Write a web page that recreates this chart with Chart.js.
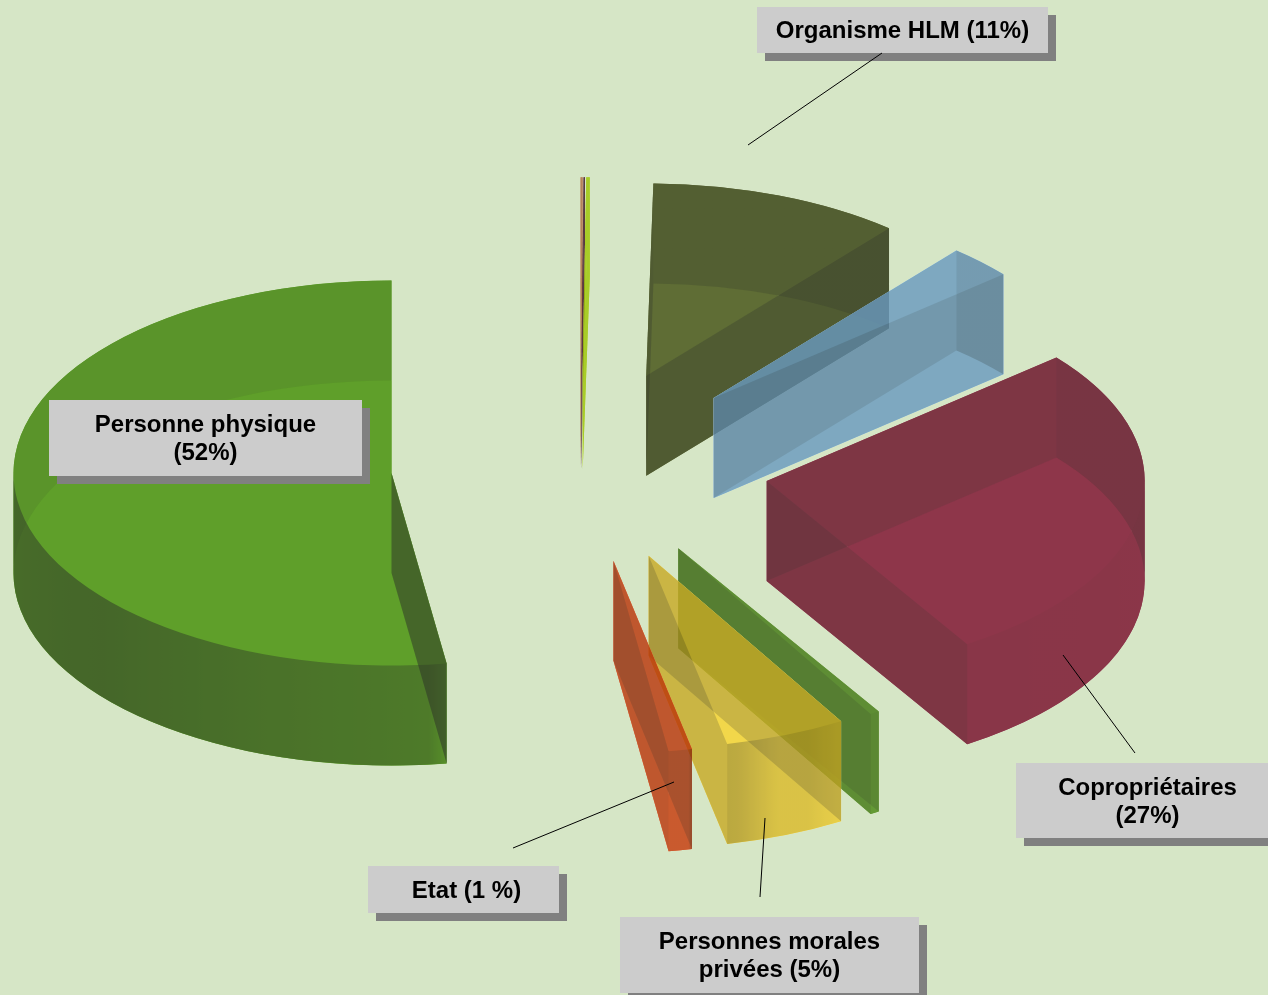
<!DOCTYPE html>
<html>
<head>
<meta charset="utf-8">
<script src="https://cdn.jsdelivr.net/npm/chart.js@4"></script>
<style>
  html, body { margin: 0; padding: 0; background: #D6E6C6; overflow: hidden; }
  #wrap { position: relative; width: 1268px; height: 995px; overflow: hidden; }
  canvas { position: absolute; left: 0; top: 0; }
  svg { position: absolute; left: 0; top: 0; }
  .lbl {
    position: absolute; box-sizing: border-box; background: #CCCCCC; box-shadow: 8px 8px 0 #808080;
    font: bold 24px/28px "Liberation Sans", Arial, sans-serif; color: #000;
    display: flex; align-items: center; justify-content: center; text-align: center; white-space: pre-line;
  }
</style>
</head>
<body>
<div id="wrap"><canvas id="chart" width="1268" height="995"></canvas></div>
<script>
// slices run clockwise from 12 o'clock, percentages
const categories = ["Autre A", "Autre B", "Autre C", "Organisme HLM", "Autre D", "Copropriétaires", "Autre E", "Personnes morales privées", "Etat", "Personne physique"];
const shares = [0.09, 0.06, 0.15, 10.8, 2.8, 27.2, 0.4, 5.17, 1.0, 52.33];
const colors = ["#AD6A3F", "#3A0F20", "#9DC600", "#414F11", "#77B0DC", "#7C0B2B", "#4C8E11", "#F9D42B", "#E94109", "#418E03"];
// how much each slice's two straight walls darken what is under them
const radialShade = [1, 1, 1, 0.72, 0.87, 0.84, 0.84, 0.8, 0.8, 0.5];

const labelTexts = ["Organisme HLM (11%)", "Personne physique\n(52%)", "Copropriétaires\n(27%)", "Etat (1 %)", "Personnes morales\nprivées (5%)"];
const labelBoxes = [[757, 7, 291, 46], [49, 400, 313, 76], [1016, 763, 263, 75], [368, 866, 191, 47], [620, 917, 299, 76]];
const labelShift = [0, 0, 0, 6, 0];
const leaderLines = [[882, 53, 748, 145], [1135, 753, 1063, 655], [760, 897, 765, 818], [513, 848, 674, 782]];

const squash = 192.5 / 378;  // ellipse ratio of the tilted pie
const depth = 100;
const sliceAlpha = 0.8;
// wall brightness by direction, degrees clockwise from the top
const wallStops = [[0, 1], [1.05, 1], [1.08, 0.78], [90, 0.78], [90.1, 0.97], [150, 0.95], [155, 0.88], [160, 0.88], [166, 0.74], [168.2, 0.72], [168.5, 0.85], [171.9, 0.85], [172.2, 0.68], [230, 0.5], [269.9, 0.55], [270.1, 0.9], [360, 0.9]];

function wallLight(a) {
  let deg = (a + Math.PI / 2) * 180 / Math.PI;
  deg = ((deg % 360) + 360) % 360;
  for (let i = 1; i < wallStops.length; i++) {
    if (deg <= wallStops[i][0]) {
      const p = wallStops[i - 1], q = wallStops[i];
      return p[1] + (q[1] - p[1]) * (deg - p[0]) / (q[0] - p[0]);
    }
  }
  return 0.9;
}
function gray(f) {
  const v = Math.round(255 * f);
  return "rgb(" + v + "," + v + "," + v + ")";
}

const layer = document.createElement("canvas");
layer.width = 1268;
layer.height = 995;

function drawSlice(ctx, arc, index) {
  const g2 = layer.getContext("2d");
  g2.clearRect(0, 0, layer.width, layer.height);
  g2.globalCompositeOperation = "source-over";

  const R = arc.outerRadius;
  const mid = (arc.startAngle + arc.endAngle) / 2;
  const ox = arc.x + arc.options.offset * Math.cos(mid);
  const oy = arc.y + arc.options.offset * Math.sin(mid) * squash;
  const px = a => ox + R * Math.cos(a);
  const py = (a, dz) => oy + R * Math.sin(a) * squash + dz;

  const facePath = dz => {
    g2.beginPath();
    g2.moveTo(ox, oy + dz);
    g2.ellipse(ox, oy + dz, R, R * squash, 0, arc.startAngle, arc.endAngle);
    g2.closePath();
  };
  const radialPath = a => {
    g2.beginPath();
    g2.moveTo(ox, oy);
    g2.lineTo(px(a), py(a, 0));
    g2.lineTo(px(a), py(a, depth));
    g2.lineTo(ox, oy + depth);
    g2.closePath();
  };
  const wallPath = (a0, a1) => {
    g2.beginPath();
    g2.ellipse(ox, oy, R, R * squash, 0, a0, a1);
    g2.lineTo(px(a1), py(a1, depth));
    g2.ellipse(ox, oy + depth, R, R * squash, 0, a1, a0, true);
    g2.closePath();
  };

  // split the wall where x turns round (canvas angles 0 and PI)
  const cuts = [arc.startAngle];
  [0, Math.PI, 2 * Math.PI].forEach(c => { if (c > arc.startAngle && c < arc.endAngle) cuts.push(c); });
  cuts.push(arc.endAngle);

  // whole silhouette in the plain colour first
  g2.fillStyle = arc.options.backgroundColor;
  facePath(0); g2.fill();
  facePath(depth); g2.fill();
  radialPath(arc.startAngle); g2.fill();
  radialPath(arc.endAngle); g2.fill();
  for (let i = 0; i < cuts.length - 1; i++) {
    wallPath(cuts[i], cuts[i + 1]);
    g2.fill();
  }

  // walls darken what is under them, where top and bottom overlap stays bright
  g2.globalCompositeOperation = "multiply";
  g2.fillStyle = gray(radialShade[index]);
  radialPath(arc.startAngle); g2.fill();
  radialPath(arc.endAngle); g2.fill();
  for (let i = 0; i < cuts.length - 1; i++) {
    const a0 = cuts[i], a1 = cuts[i + 1];
    const x0 = px(a0), x1 = px(a1);
    wallPath(a0, a1);
    if (Math.abs(x1 - x0) < 1) {
      g2.fillStyle = gray(wallLight((a0 + a1) / 2));
    } else {
      const grad = g2.createLinearGradient(x0, 0, x1, 0);
      for (let k = 0; k <= 24; k++) {
        // evenly spaced in x, so go back from x to the angle
        const x = x0 + (x1 - x0) * (k + (k === 0 ? 0.01 : k === 24 ? -0.01 : 0)) / 24;
        let a = Math.acos(Math.max(-1, Math.min(1, (x - ox) / R)));
        if (Math.sin((a0 + a1) / 2) < 0) a = -a;
        grad.addColorStop(k / 24, gray(wallLight(a)));
      }
      g2.fillStyle = grad;
    }
    g2.fill();
  }

  ctx.save();
  ctx.globalAlpha = sliceAlpha;
  ctx.drawImage(layer, 0, 0);
  ctx.restore();
}

const pie3d = {
  id: "pie3d",
  beforeDatasetDraw(chart, args) {
    const ctx = chart.ctx;
    args.meta.data.forEach((arc, i) => drawSlice(ctx, arc, i));
    return false;
  }
};

const ctx = document.getElementById("chart").getContext("2d");
const chart = new Chart(ctx, {
  type: "pie",
  data: {
    labels: categories,
    datasets: [{
      data: shares,
      backgroundColor: colors,
      borderWidth: 0,
      radius: 378,
      offset: 189
    }]
  },
  options: {
    responsive: false,
    animation: false,
    events: [],
    layout: { padding: { left: 0, right: 108, top: 0, bottom: 63 } },
    plugins: { legend: { display: false }, tooltip: { enabled: false } }
  },
  plugins: [pie3d]
});

const wrap = document.getElementById("wrap");
labelTexts.forEach((t, i) => {
  const b = labelBoxes[i];
  const d = document.createElement("div");
  d.className = "lbl";
  d.style.left = b[0] + "px";
  d.style.top = b[1] + "px";
  d.style.width = b[2] + "px";
  d.style.height = b[3] + "px";
  d.style.paddingLeft = labelShift[i] + "px";
  d.textContent = t;
  wrap.appendChild(d);
});

// leader lines sit above the label boxes
const svgNS = "http://www.w3.org/2000/svg";
const svg = document.createElementNS(svgNS, "svg");
svg.setAttribute("width", 1268);
svg.setAttribute("height", 995);
leaderLines.forEach(l => {
  const line = document.createElementNS(svgNS, "line");
  line.setAttribute("x1", l[0]);
  line.setAttribute("y1", l[1]);
  line.setAttribute("x2", l[2]);
  line.setAttribute("y2", l[3]);
  line.setAttribute("stroke", "#000");
  line.setAttribute("stroke-width", 1);
  svg.appendChild(line);
});
wrap.appendChild(svg);
</script>
</body>
</html>
